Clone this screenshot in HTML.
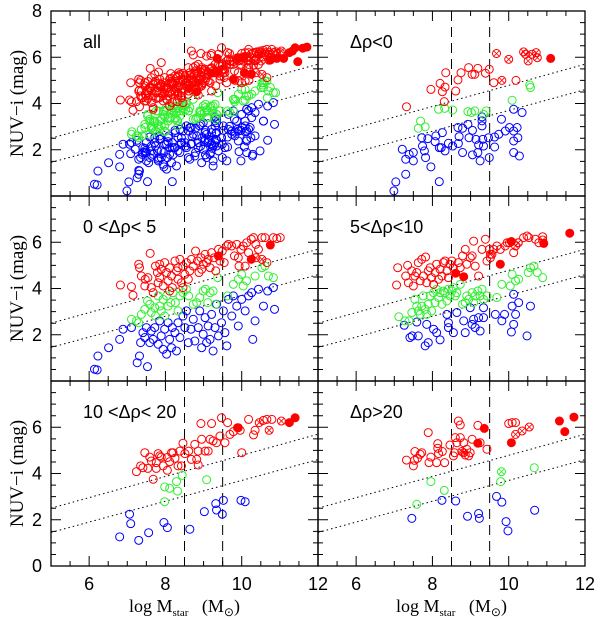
<!DOCTYPE html>
<html><head><meta charset="utf-8"><style>
html,body{margin:0;padding:0;background:#fff;}
svg{display:block;}
</style></head><body>
<svg id="chart" width="600" height="619" viewBox="0 0 600 619" xmlns="http://www.w3.org/2000/svg"></svg>
<script>
// ---------- DATA ----------
const xTicksLabels = [6, 8, 10, 12];
const yTickLabels = [2, 4, 6];
const panelNames = ["all", "Δρ<0", "0  <Δρ<  5", "5<Δρ<10", "10  <Δρ<  20", "Δρ>20"];
const dashedX = [8.5, 9.5];
const upperLine = [[5, 2.5], [12, 5.7]];
const lowerLine = [[5, 1.45], [12, 4.6]];

// Δρ<0
const negRed = [[7.32,3.86],[7.96,4.61],[8.20,4.87],[8.33,4.71],[8.26,4.51],[8.35,5.33],[8.31,4.08],[8.61,4.54],[8.67,5.02],[8.75,5.33],[8.95,5.55],[9.04,5.26],[9.11,5.26],[9.19,5.52],[9.39,5.31],[9.49,5.48],[9.61,4.90],[10.19,5.00]];
const negRedX = [[9.68,6.16],[9.82,5.00],[10.0,5.91],[10.39,6.23],[10.51,5.84],[10.61,6.13],[10.72,6.20],[10.75,5.98],[10.44,6.13]];
const negRedF = [[11.10,5.95]];
const negGreen = [[7.69,3.24],[7.63,2.93],[7.81,2.99],[8.16,3.75],[8.32,3.79],[8.53,3.72],[8.93,3.65],[9.02,3.61],[9.11,3.68],[9.34,3.53],[9.41,3.68],[10.09,4.14],[10.55,4.80],[10.57,4.69]];
const negGreenX = [];
const negBlue = [[6.99,0.22],[7.04,0.61],[7.30,0.94],[7.21,2.02],[7.30,1.59],[7.39,1.80],[7.50,1.88],[7.50,1.52],[7.72,2.52],[7.74,2.16],[7.79,1.95],[7.82,1.66],[7.96,1.26],[7.88,2.48],[8.09,2.60],[8.07,2.35],[8.18,2.09],[8.23,2.09],[8.26,2.74],[8.33,1.95],[8.18,0.62],[8.42,2.28],[8.53,2.16],[8.67,2.96],[8.68,2.27],[8.70,2.57],[8.79,2.93],[8.79,1.88],[8.93,3.10],[8.96,2.52],[9.05,2.84],[9.05,1.78],[9.14,2.45],[9.19,1.88],[9.21,2.21],[9.25,1.52],[9.30,3.25],[9.30,3.03],[9.32,2.45],[9.34,2.16],[9.47,2.52],[9.49,1.66],[9.63,2.55],[9.63,2.12],[9.74,2.67],[9.81,3.32],[9.91,2.81],[10.02,2.96],[10.13,2.81],[10.13,3.75],[10.22,2.96],[10.24,2.52],[10.13,2.38],[10.13,1.88],[10.28,1.73],[10.35,3.61],[9.30,3.42]];

// 0<Δρ<5
const lowRed = [[6.82,4.15],[7.11,4.08],[7.15,3.71],[7.30,5.05],[7.32,4.90],[7.37,4.54],[7.47,4.40],[7.54,4.47],[7.60,5.52],[7.63,4.04],[7.68,3.82],[7.74,4.97],[7.79,4.69],[7.81,4.25],[7.85,4.47],[7.89,4.83],[7.94,4.11],[7.98,5.12],[8.03,4.69],[8.07,4.33],[8.11,4.90],[8.16,4.54],[8.18,4.04],[8.25,5.19],[8.29,4.76],[8.33,4.40],[8.38,5.26],[8.42,4.25],[8.46,4.97],[8.51,4.61],[8.55,5.12],[8.60,4.40],[8.64,4.76],[8.68,5.26],[8.73,4.97],[8.79,5.62],[8.84,5.19],[8.88,4.69],[8.93,5.33],[8.99,5.05],[9.04,5.48],[9.08,5.12],[9.12,5.26],[9.17,4.90],[9.21,5.55],[9.28,5.33],[9.32,4.76],[9.39,5.69],[9.43,5.19],[9.49,5.62],[9.54,5.12],[9.61,5.84],[9.65,5.91],[9.74,5.84],[9.81,5.41],[9.87,5.91],[9.93,4.97],[9.98,5.69],[10.04,5.84],[10.09,4.97],[10.13,5.98],[10.18,5.55],[10.25,6.13],[10.31,6.20],[10.37,5.91],[10.44,5.69],[10.53,6.20],[10.61,6.20],[10.66,5.12],[10.83,6.20],[10.92,6.16],[11.01,6.20],[9.91,5.33],[8.95,4.83],[8.46,4.04],[8.11,3.89],[7.46,4.11],[7.85,5.05],[8.33,4.90]];
const lowRedX = [[10.37,5.33],[10.53,5.26]];
const lowRedF = [[10.75,5.88],[10.25,5.26],[9.39,5.41]];
const lowGreen = [[7.11,2.67],[7.24,2.60],[7.30,2.52],[7.37,2.88],[7.46,3.10],[7.53,3.46],[7.59,3.32],[7.63,2.96],[7.72,3.17],[7.74,2.81],[7.81,3.68],[7.85,3.24],[7.89,3.03],[7.94,3.53],[7.98,2.81],[8.03,3.68],[8.07,3.24],[8.14,3.39],[8.20,3.82],[8.26,3.39],[8.33,3.03],[8.38,3.68],[8.46,3.82],[8.55,3.97],[8.61,3.68],[8.73,3.32],[8.82,3.39],[8.90,3.61],[8.99,3.89],[9.05,3.97],[9.11,3.39],[9.17,3.82],[9.25,3.89],[9.32,3.32],[9.37,4.47],[9.63,3.68],[9.78,4.18],[9.91,4.40],[10.00,4.61],[10.04,4.11],[10.13,4.33],[10.35,4.54],[10.53,4.90],[10.61,4.97],[10.70,4.54],[10.83,4.47]];
const lowGreenX = [];
const lowBlue = [[6.14,0.51],[6.21,0.48],[6.23,1.08],[6.51,1.44],[6.80,1.80],[6.89,2.24],[7.11,2.31],[7.26,0.79],[7.32,1.08],[7.35,1.66],[7.41,2.09],[7.46,1.88],[7.50,2.31],[7.53,0.62],[7.59,1.66],[7.63,2.16],[7.68,1.80],[7.72,2.31],[7.81,1.59],[7.85,2.60],[7.89,1.95],[7.94,1.37],[7.98,2.24],[8.03,1.16],[8.07,2.52],[8.11,1.80],[8.16,1.44],[8.18,2.31],[8.25,2.09],[8.29,1.30],[8.33,2.52],[8.38,1.88],[8.46,2.81],[8.51,2.31],[8.55,3.03],[8.60,1.66],[8.67,2.24],[8.73,2.67],[8.77,1.73],[8.86,2.31],[8.90,3.03],[8.95,1.44],[8.99,2.02],[9.04,2.74],[9.08,1.66],[9.12,2.38],[9.17,1.80],[9.21,2.88],[9.25,1.30],[9.30,2.31],[9.34,3.32],[9.39,1.95],[9.47,2.52],[9.52,3.03],[9.56,2.09],[9.61,1.52],[9.74,2.81],[9.78,3.68],[9.87,3.24],[9.91,2.38],[10.00,3.53],[10.09,3.03],[10.18,3.68],[10.26,3.82],[10.29,1.80],[10.35,2.60],[10.44,3.97],[10.57,3.24],[10.68,3.89],[10.83,4.04],[10.86,3.10],[9.65,3.53]];

// 5<Δρ<10
const midRed = [[7.09,4.90],[7.06,4.15],[7.30,4.54],[7.35,5.00],[7.37,4.25],[7.46,4.76],[7.50,4.11],[7.54,4.54],[7.59,4.69],[7.63,5.12],[7.68,4.33],[7.72,5.26],[7.76,4.54],[7.82,5.36],[7.85,4.25],[7.89,4.76],[7.94,4.90],[7.98,4.47],[8.03,4.18],[8.07,4.69],[8.11,5.05],[8.16,4.40],[8.20,4.83],[8.25,4.54],[8.29,5.12],[8.33,5.19],[8.38,4.76],[8.42,4.47],[8.46,5.05],[8.51,5.19],[8.55,4.90],[8.68,5.12],[8.73,4.90],[8.79,5.41],[8.86,5.69],[8.90,5.05],[8.99,5.33],[9.04,5.41],[9.12,4.97],[9.21,4.54],[9.30,5.69],[9.39,6.13],[9.43,5.19],[9.49,5.69],[9.52,5.33],[9.56,5.48],[9.61,5.69],[9.69,5.84],[9.78,5.69],[9.91,5.84],[9.96,5.98],[10.02,5.98],[10.13,5.55],[10.25,5.98],[10.39,6.20],[10.48,6.27],[10.53,6.20],[10.70,6.13],[10.79,5.98],[10.89,6.24],[9.08,6.05]];
const midRedX = [[9.52,5.48],[10.18,5.84],[10.25,5.98],[10.89,6.10]];
const midRedF = [[8.61,4.66],[8.82,4.51],[9.78,5.05],[10.07,6.03],[10.92,5.95],[11.60,6.39]];
const midGreen = [[7.12,2.78],[7.28,2.60],[7.39,2.60],[7.46,2.96],[7.54,3.53],[7.59,3.24],[7.63,3.03],[7.68,2.88],[7.72,3.24],[7.76,3.68],[7.81,3.10],[7.85,2.88],[7.89,3.32],[7.94,3.68],[7.98,3.03],[8.03,3.82],[8.07,3.39],[8.11,3.97],[8.16,3.61],[8.20,3.82],[8.25,3.32],[8.29,3.89],[8.33,3.82],[8.38,3.46],[8.42,3.97],[8.46,3.68],[8.51,3.89],[8.55,4.04],[8.60,3.68],[8.64,3.82],[8.73,4.18],[8.79,3.32],[8.86,3.39],[8.90,3.68],[8.95,3.53],[9.04,3.82],[9.08,3.39],[9.12,3.68],[9.19,3.89],[9.25,3.68],[9.30,3.97],[9.34,3.53],[9.43,3.68],[9.69,3.61],[9.82,4.18],[10.04,4.11],[10.09,4.61],[10.18,4.33],[10.26,4.40],[10.51,4.69],[10.57,4.90],[10.66,4.97],[10.75,4.69],[10.89,4.47]];
const midGreenX = [];
const midBlue = [[7.26,2.41],[7.41,1.88],[7.47,1.95],[7.59,2.55],[7.63,1.95],[7.81,1.52],[7.85,2.45],[7.89,1.66],[8.03,2.24],[8.11,2.09],[8.20,1.78],[8.38,2.88],[8.42,2.52],[8.42,2.31],[8.55,2.09],[8.64,2.96],[8.82,2.60],[8.86,2.09],[8.99,3.17],[9.04,2.45],[9.08,2.67],[9.12,2.31],[9.21,2.74],[9.25,2.16],[9.34,3.17],[9.34,2.74],[9.65,2.88],[9.82,2.60],[9.89,2.88],[10.09,3.24],[10.13,3.75],[10.18,2.88],[10.13,2.45],[10.07,2.12],[10.26,3.39],[10.57,3.24],[10.48,1.95]];

// 10<Δρ<20
const hiRed = [[7.24,4.08],[7.35,4.33],[7.41,4.25],[7.46,4.90],[7.54,4.22],[7.59,4.71],[7.63,4.54],[7.68,3.75],[7.76,4.47],[7.76,4.22],[7.81,4.86],[7.85,4.76],[7.89,4.71],[7.94,4.33],[8.05,4.69],[8.05,4.14],[8.11,4.51],[8.16,4.90],[8.20,4.90],[8.25,4.66],[8.33,4.33],[8.38,4.97],[8.42,4.33],[8.46,5.31],[8.51,4.86],[8.61,4.97],[8.68,4.61],[8.77,5.26],[8.82,4.61],[8.86,4.37],[8.86,4.97],[8.93,6.16],[8.95,5.48],[9.04,4.97],[9.12,4.97],[9.17,5.48],[9.21,6.16],[9.25,5.41],[9.34,5.33],[9.43,5.62],[9.47,6.41],[9.56,5.33],[9.63,6.20],[9.69,5.69],[9.78,5.81],[9.91,5.98],[9.96,5.87],[10.00,4.90],[10.18,6.34],[10.31,5.67],[10.35,5.87],[10.57,6.30],[10.66,6.34],[10.79,6.34]];
const hiRedX = [[10.46,6.20],[10.72,5.87],[11.04,6.27]];
const hiRedF = [[11.25,6.20],[11.40,6.41],[9.89,5.98]];
const hiGreen = [[7.98,3.42],[8.11,3.36],[8.32,3.24],[8.29,3.65],[8.44,3.92],[9.08,3.73],[7.98,2.78]];
const hiGreenX = [];
const hiBlue = [[6.80,1.26],[7.06,2.24],[7.09,1.83],[7.30,1.11],[7.56,1.44],[7.96,1.88],[8.05,1.66],[8.64,1.59],[9.02,2.35],[9.32,2.70],[9.34,2.42],[9.49,2.24],[9.52,2.84],[9.98,2.84],[10.09,2.78]];

// Δρ>20
const topRed = [[7.32,4.58],[7.50,4.33],[7.53,4.57],[7.54,4.95],[7.61,4.66],[7.68,4.83],[7.72,4.90],[7.89,5.77],[7.91,4.47],[7.96,4.71],[8.11,4.47],[8.14,5.29],[8.14,5.09],[8.16,4.86],[8.26,4.95],[8.32,4.47],[8.46,5.23],[8.55,4.76],[8.58,4.90],[8.60,5.55],[8.64,5.33],[8.68,6.27],[8.73,6.10],[8.73,5.55],[8.82,5.33],[8.86,4.80],[8.90,5.05],[8.95,4.76],[8.99,4.90],[9.04,5.48],[9.19,6.08],[9.25,5.33],[9.43,5.05],[10.00,6.16],[10.09,6.20],[10.18,6.20]];
const topRedX = [[10.18,5.69],[10.35,5.84],[10.54,6.01],[8.82,4.90],[8.77,4.95]];
const topRedF = [[9.36,5.95],[9.19,5.31],[10.07,5.33],[11.33,6.27],[11.47,5.81],[11.71,6.44]];
const topGreen = [[7.96,3.65],[8.31,3.27],[7.59,2.67],[9.79,3.65],[10.67,4.25]];
const topGreenX = [[9.81,4.08]];
const topBlue = [[7.46,2.06],[8.25,2.84],[8.61,2.81],[8.92,2.15],[9.21,2.27],[9.23,2.06],[9.68,3.01],[9.82,2.76],[9.93,1.92],[9.98,1.52],[10.68,2.41]];

// ---------- LAYOUT ----------
const X0 = 51, XM = 318, XR = 585;
const rowTops = [11, 196, 381];
const PW = 267, PH = 185;
const XMIN = 5, XMAX = 12, YMIN = 0, YMAX = 8;
const COLORS = {red:"#ff0000", green:"#33ee33", blue:"#0000ff"};
const NS = "http://www.w3.org/2000/svg";
const svg = document.getElementById("chart");

function mk(tag, attrs, parent) {
  const e = document.createElementNS(NS, tag);
  for (const k in attrs) e.setAttribute(k, attrs[k]);
  (parent || svg).appendChild(e);
  return e;
}
function sx(left, v) { return left + (v - XMIN) / (XMAX - XMIN) * PW; }
function sy(top, v) { return top + PH - (v - YMIN) / (YMAX - YMIN) * PH; }

function concat(...arrs) { return [].concat(...arrs); }

const panels = [
  {left:X0, top:rowTops[0], id:"all",
   red:concat(negRed,lowRed,midRed,hiRed,topRed), redX:concat(negRedX,lowRedX,midRedX,hiRedX,topRedX), redF:concat(negRedF,lowRedF,midRedF,hiRedF,topRedF),
   green:concat(negGreen,lowGreen,midGreen,hiGreen,topGreen), greenX:concat(negGreenX,lowGreenX,midGreenX,hiGreenX,topGreenX),
   blue:concat(negBlue,lowBlue,midBlue,hiBlue,topBlue)},
  {left:XM, top:rowTops[0], id:"neg", red:negRed, redX:negRedX, redF:negRedF, green:negGreen, greenX:negGreenX, blue:negBlue},
  {left:X0, top:rowTops[1], id:"0-5", red:lowRed, redX:lowRedX, redF:lowRedF, green:lowGreen, greenX:lowGreenX, blue:lowBlue},
  {left:XM, top:rowTops[1], id:"5-10", red:midRed, redX:midRedX, redF:midRedF, green:midGreen, greenX:midGreenX, blue:midBlue},
  {left:X0, top:rowTops[2], id:"10-20", red:hiRed, redX:hiRedX, redF:hiRedF, green:hiGreen, greenX:hiGreenX, blue:hiBlue},
  {left:XM, top:rowTops[2], id:"gt20", red:topRed, redX:topRedX, redF:topRedF, green:topGreen, greenX:topGreenX, blue:topBlue}
];

const R = 4;
function drawPoints(g, p, pts, color, kind, nm) {
  pts.forEach(d => {
    const cx = sx(p.left, d[0]), cy = sy(p.top, d[1]);
    const c = mk("circle", {cx:cx, cy:cy, r:R, fill: kind==="filled"?color:"none", stroke:color, "stroke-width":1}, g);
    
    
    if (kind === "cross") {
      const k = R*0.7;
      mk("path", {d:`M${cx-k},${cy-k}L${cx+k},${cy+k}M${cx-k},${cy+k}L${cx+k},${cy-k}`, stroke:color, "stroke-width":0.8, fill:"none"}, g);
    }
  });
}

panels.forEach((p, i) => {
  const g = mk("g", {});
  
  
  const cp = mk("clipPath", {id:"cp"+i});
  mk("rect", {x:p.left, y:p.top, width:PW, height:PH}, cp);
  const inner = mk("g", {"clip-path":`url(#cp${i})`}, g);
  [upperLine, lowerLine].forEach((ln, j) => {
    const l = mk("line", {x1:sx(p.left, ln[0][0]), y1:sy(p.top, ln[0][1]), x2:sx(p.left, ln[1][0]), y2:sy(p.top, ln[1][1]), stroke:"#000", "stroke-width":1, "stroke-dasharray":"1.5 3"}, inner);
    
    
  });
  dashedX.forEach(v => {
    const l = mk("line", {x1:sx(p.left, v), y1:p.top, x2:sx(p.left, v), y2:p.top+PH, stroke:"#000", "stroke-width":1, "stroke-dasharray":"10 6"}, inner);
    
    
  });
  drawPoints(inner, p, p.blue, COLORS.blue, "open", "blue-galaxy-point");
  drawPoints(inner, p, p.green, COLORS.green, "open", "green-galaxy-point");
  drawPoints(inner, p, p.greenX, COLORS.green, "cross", "green-crossed-point");
  drawPoints(inner, p, p.red, COLORS.red, "open", "red-galaxy-point");
  drawPoints(inner, p, p.redX, COLORS.red, "cross", "red-crossed-point");
  drawPoints(inner, p, p.redF, COLORS.red, "filled", "red-filled-point");
  let td = "";
  for (let v = XMIN + 0.5; v < XMAX; v += 0.5) {
    const x = sx(p.left, v), len = (Math.abs(v % 2) < 1e-6) ? 10 : 5;
    td += `M${x},${p.top+PH}v${-len}M${x},${p.top}v${len}`;
  }
  for (let v = YMIN + 0.5; v < YMAX; v += 0.5) {
    const y = sy(p.top, v), len = (Math.abs(v % 2) < 1e-6) ? 10 : 5;
    td += `M${p.left},${y}h${len}M${p.left+PW},${y}h${-len}`;
  }
  const t = mk("path", {d:td, stroke:"#000", "stroke-width":1, fill:"none"}, g);
  
  
  const fr = mk("rect", {x:p.left, y:p.top, width:PW, height:PH, fill:"none", stroke:"#000", "stroke-width":1.3}, g);
  
  
  const lab = mk("text", {x:p.left+32, y:p.top+37, "font-family":"Liberation Sans, sans-serif", "font-size":18, fill:"#000"}, g);
  lab.textContent = panelNames[i];
  
  
});

rowTops.forEach((top, r) => {
  const labs = yTickLabels.slice();
  if (r === 0) labs.push(8);
  if (r === 2) labs.unshift(0);
  labs.forEach(v => {
    const t = mk("text", {x:42, y:sy(top, v)+6, "text-anchor":"end", "font-family":"Liberation Sans, sans-serif", "font-size":18}, svg);
    t.textContent = v;
    
    
  });
  const yt = mk("text", {x:0, y:0, transform:`translate(23,${top+PH/2}) rotate(-90)`, "text-anchor":"middle", "font-family":"Liberation Serif, serif", "font-size":19}, svg);
  yt.textContent = "NUV−i (mag)";
  
  
});

[X0, XM].forEach(left => {
  xTicksLabels.forEach(v => {
    const t = mk("text", {x:sx(left, v), y:590, "text-anchor":"middle", "font-family":"Liberation Sans, sans-serif", "font-size":18}, svg);
    t.textContent = v;
    
    
  });
  const xt = mk("text", {x:left+PW/2, y:612, "text-anchor":"middle", "font-family":"Liberation Serif, serif", "font-size":18}, svg);
  
  
  xt.innerHTML = 'log M<tspan font-size="11" dy="4">star</tspan><tspan dy="-4" xml:space="preserve">   (M</tspan><tspan font-size="12" dy="4">⊙</tspan><tspan dy="-4">)</tspan>';
});
</script>
</body></html>
